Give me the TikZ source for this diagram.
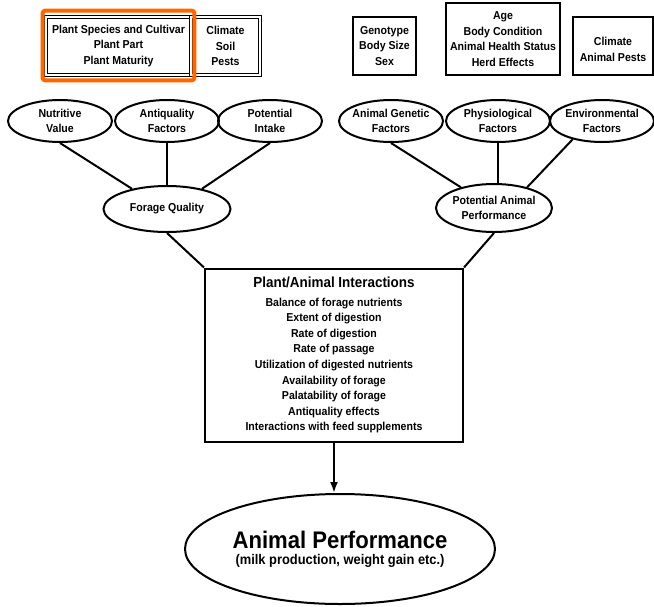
\documentclass[tikz,border=0pt]{standalone}
\usepackage{fontspec}
\setmainfont{Liberation Sans}[FakeStretch=0.92]
\usetikzlibrary{shapes.geometric,arrows.meta,calc}
\definecolor{hlorange}{RGB}{255,102,0}

\begin{document}
\begin{tikzpicture}[x=1pt,y=-1pt,line width=2pt,
  font=\bfseries\fontsize{11.5}{15.6}\selectfont,
  oval/.style={ellipse,draw,align=center,inner xsep=-22pt,inner ysep=-4pt,minimum width=104pt,minimum height=42pt},
  infobox/.style={draw,align=center,inner sep=0pt},
  dblbox/.style={infobox,line width=0.9pt,double,double distance=1.4pt}]
\useasboundingbox (0,0) rectangle (654,606);
\node[dblbox,minimum width=145pt,minimum height=58pt] (plant) at (118.5,46) {Plant Species and Cultivar\\Plant Part\\Plant Maturity};
\node[dblbox,minimum width=69pt,minimum height=58pt] (climsoil) at (225.5,46) {Climate\\Soil\\Pests};
\node[infobox,minimum width=63pt,minimum height=58pt] (genotype) at (384.5,46) {Genotype\\Body Size\\Sex};
\node[infobox,minimum width=114pt,minimum height=72pt] (age) at (503,39) {Age\\Body Condition\\Animal Health Status\\Herd Effects};
\node[infobox,minimum width=80pt,minimum height=58pt] (climpests) at (613,46) {\mbox{}\\Climate\\Animal Pests};

\node[oval] (nutval) at (60,121) {Nutritive\\Value};
\node[oval] (antiq) at (167,121) {Antiquality\\Factors};
\node[oval] (intake) at (270,121) {Potential\\Intake};
\node[oval] (genetic) at (391,121) {Animal Genetic\\Factors};
\node[oval] (physio) at (498,121) {Physiological\\Factors};
\node[oval] (environ) at (602,121) {Environmental\\Factors};

\node[ellipse,draw,inner sep=0pt,minimum width=127pt,minimum height=46pt] (forage) at (167,209) {Forage Quality};
\node[ellipse,draw,align=center,inner xsep=-14pt,minimum width=116pt,minimum height=48pt] (potperf) at (494,208) {Potential Animal\\Performance};

\node[infobox,minimum width=258pt,minimum height=173pt] (interact) at (334,355) {{\fontsize{14.6}{16}\selectfont Plant/Animal Interactions}\\[3pt]
Balance of forage nutrients\\Extent of digestion\\Rate of digestion\\Rate of passage\\Utilization of digested nutrients\\
Availability of forage\\Palatability of forage\\Antiquality effects\\Interactions with feed supplements};

\node[ellipse,draw,inner sep=0pt,minimum width=310pt,minimum height=110pt,align=center] (animperf) at (340,549) {{\fontsize{24}{26}\selectfont Animal Performance}\\{\fontsize{14}{18}\selectfont (milk production, weight gain etc.)}};

\draw (nutval.south) -- (forage.150);
\draw (antiq.south) -- (forage.north);
\draw (intake.south) -- (forage.30);
\draw (genetic.south) -- (potperf.148);
\draw (physio.south) -- (physio.south |- potperf.north);
\draw (environ.212) -- (potperf.32);
\draw (forage.south) -- (interact.north west);
\draw (potperf.south) -- (interact.north east);
\draw[-{Latex[length=11pt,width=8pt]}] (interact.south) -- (interact.south |- animperf.north);

\draw[hlorange,line width=4pt,rounded corners=3pt] ($(plant.north west)+(-3,-6)$) rectangle ($(plant.south east)+(3,5)$);
\end{tikzpicture}
\end{document}
